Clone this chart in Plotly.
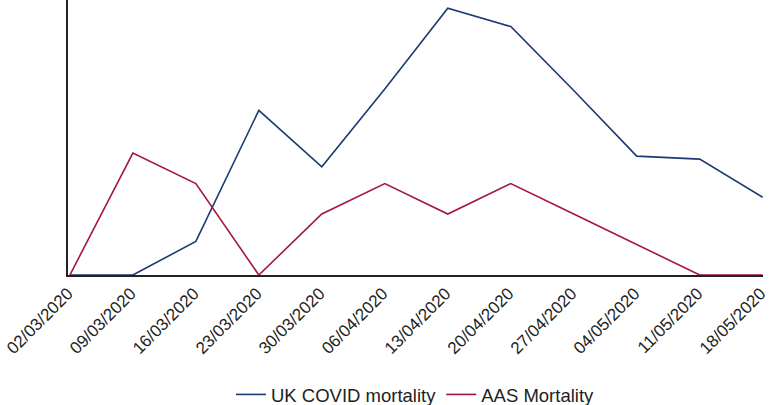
import plotly.graph_objects as go

dates = ["02/03/2020", "09/03/2020", "16/03/2020", "23/03/2020", "30/03/2020", "06/04/2020",
         "13/04/2020", "20/04/2020", "27/04/2020", "04/05/2020", "11/05/2020", "18/05/2020"]
uk_covid = [0, 0, 1.1, 5.4, 3.55, 6.1, 8.75, 8.15, 6.05, 3.9, 3.8, 2.55]
aas = [0, 4, 3, 0, 2, 3, 2, 3, 2, 1, 0, 0]

xs = list(range(len(dates)))

fig = go.Figure()
fig.add_trace(go.Scatter(x=xs, y=uk_covid, mode="lines", name="UK COVID mortality",
                         line=dict(color="#1c3a72", width=1.6), cliponaxis=False))
fig.add_trace(go.Scatter(x=xs, y=aas, mode="lines", name="AAS Mortality",
                         line=dict(color="#a3173b", width=1.6), cliponaxis=False))

fig.update_layout(
    width=769, height=405,
    margin=dict(l=68, r=6, t=0, b=130, autoexpand=False),
    plot_bgcolor="white", paper_bgcolor="white",
    font=dict(family="Liberation Sans, Arial, sans-serif", color="#222222"),
    showlegend=True,
    legend=dict(orientation="h", x=0.5, xanchor="center", y=-0.436, yanchor="middle",
                font=dict(size=18.5), tracegroupgap=0),
    xaxis=dict(tickmode="array", tickvals=xs, ticktext=dates, tickangle=-45,
               range=[-0.03, 11.005], showgrid=False, zeroline=False,
               showline=True, linecolor="#222222", linewidth=2, automargin=False,
               ticks="", tickfont=dict(size=17), ticklabeloverflow="allow",
               ticklabelshift=-2),
    yaxis=dict(range=[0, 9.02], showgrid=False, zeroline=False, showline=True,
               linecolor="#222222", linewidth=2, showticklabels=False, ticks="",
               automargin=False),
)

fig.write_html("out.html", config={"displayModeBar": False},
               post_script="document.body.style.margin='0';document.body.style.overflow='hidden';")
